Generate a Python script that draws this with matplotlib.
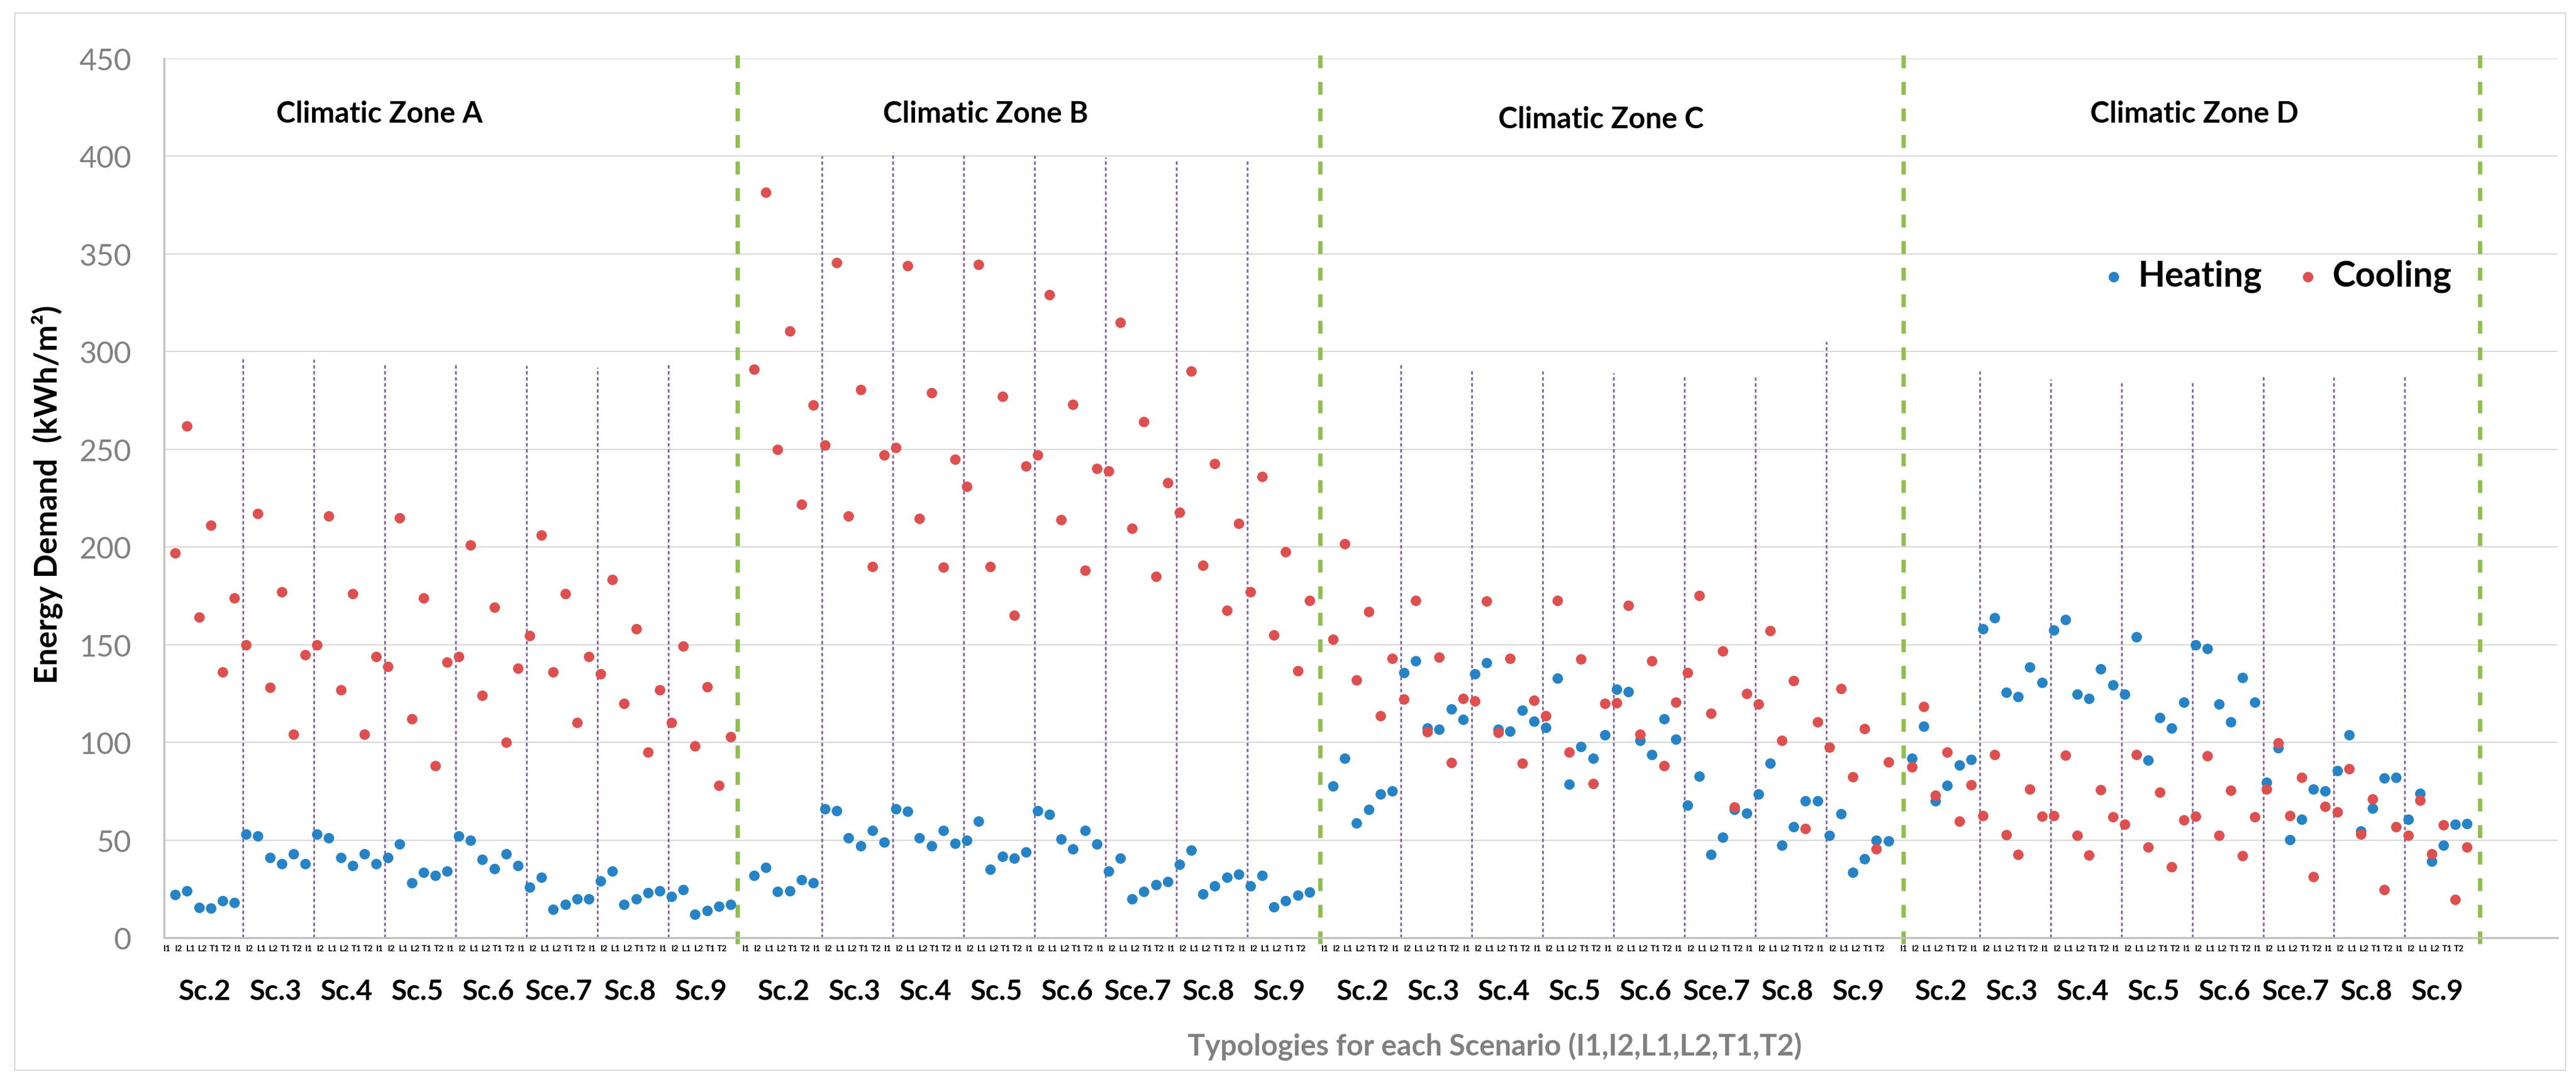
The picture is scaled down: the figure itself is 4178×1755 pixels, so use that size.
import numpy as np
import matplotlib

matplotlib.use("Agg")
import matplotlib.pyplot as plt
from matplotlib.patches import Rectangle
from matplotlib.transforms import blended_transform_factory

plt.rcParams["font.family"] = ["Lato", "DejaVu Sans"]

# ---------------------------------------------------------------------------
# Data: energy demand (kWh/m2), 8 scenarios x 6 typologies per climatic zone
# ---------------------------------------------------------------------------
TYPOLOGIES = ["I1", "I2", "L1", "L2", "T1", "T2"]
SCENARIOS = ["Sc.2", "Sc.3", "Sc.4", "Sc.5", "Sc.6", "Sce.7", "Sc.8", "Sc.9"]
ZONES = ["Climatic Zone A", "Climatic Zone B", "Climatic Zone C", "Climatic Zone D"]

HEAT_A = [22, 24, 15.5, 15, 19, 18, 53, 52, 41, 38, 43, 38,
          53, 51, 41, 37, 43, 38, 41, 48, 28, 33.5, 32, 34,
          52, 50, 40, 35.5, 43, 37, 26, 31, 14.6, 17, 20, 20,
          29, 34, 17, 20, 23, 24, 21, 24.5, 12, 14, 16, 17]
COOL_A = [197, 262, 164, 211, 136, 174, 150, 217, 128, 177, 104, 145,
          150, 216, 127, 176, 104, 144, 139, 215, 112, 174, 88, 141,
          144, 201, 124, 169, 100, 138, 154.5, 206, 136, 176, 110, 144,
          135, 183.5, 120, 158, 95, 127, 110, 149.4, 98, 128.5, 78, 103]

HEAT_B = [32, 36, 23.6, 24, 29.6, 28, 66, 65, 51, 47, 55, 49,
          66, 64.6, 51, 47, 55, 48.4, 50, 59.5, 35, 41.5, 40.6, 44,
          65, 63, 50.5, 45.4, 55, 48, 34, 40.6, 20, 23.6, 27, 28.7,
          37.7, 44.8, 22.4, 26.6, 30.8, 32.6, 26.6, 32, 15.8, 19, 21.8, 23.3]
COOL_B = [291, 381.6, 250, 310.5, 222, 272.6, 252, 345.5, 216, 280.6, 190, 247,
          251, 344, 214.6, 279, 189.5, 245, 231, 344.6, 190, 277, 165, 241.5,
          247, 329, 214, 273, 188, 240, 239, 315, 209.5, 264, 185, 233,
          217.6, 290, 190.7, 242.7, 167.7, 212, 177, 236, 155, 197.5, 136.6, 172.7]

HEAT_C = [77.7, 91.7, 58.6, 65.7, 73.5, 75, 135.7, 141.7, 107.3, 106.7, 117, 111.8,
          135, 140.8, 106.7, 105.8, 116.6, 110.9, 107.6, 133, 78.6, 97.7, 91.8, 103.7,
          127.3, 126, 101, 93.8, 112, 101.6, 68, 82.8, 42.7, 51.4, 65.5, 63.7,
          73.5, 89.4, 47.2, 56.8, 70, 70, 52.3, 63.4, 33.5, 40.3, 50, 49.6]
COOL_C = [152.7, 201.7, 132, 167, 113.6, 143, 122, 172.7, 105.5, 143.5, 89.7, 122.5,
          121.3, 172.4, 105, 142.9, 89.4, 121.6, 113.6, 172.7, 95, 142.6, 79, 120,
          120.1, 170, 104, 141.7, 88, 120.4, 135.7, 175, 114.8, 146.7, 67, 125,
          119.5, 157, 101, 131.5, 55.9, 110.6, 97.4, 127.6, 82.5, 107, 45.4, 90]

HEAT_D = [91.8, 108.2, 70.2, 78, 88.5, 91.2, 158, 163.8, 125.5, 123.4, 138.4, 130.6,
          157.5, 162.9, 124.6, 122.5, 137.5, 129.4, 124.6, 153.9, 90.9, 112.7, 107.3, 120.7,
          150, 148, 119.5, 110.3, 133.3, 120.4, 79.5, 97.1, 50.2, 60.7, 76.2, 75,
          85.5, 103.7, 54.7, 66.3, 81.6, 81.9, 60.7, 73.8, 39.2, 47.2, 58, 58.3]
COOL_D = [87.3, 118.3, 72.9, 95, 59.8, 78.3, 62.5, 93.8, 52.6, 42.7, 75.9, 62.2,
          62.5, 93.5, 52.3, 42.4, 75.6, 61.9, 58, 93.8, 46.3, 74.4, 36.2, 60.4,
          62.2, 93.2, 52.3, 75.3, 42.1, 61.9, 75.9, 99.8, 62.5, 81.9, 31.1, 67.2,
          64.3, 86.4, 52.9, 71.1, 24.5, 56.8, 52.3, 70.5, 43, 57.7, 19.7, 46.3]

HEAT = [HEAT_A, HEAT_B, HEAT_C, HEAT_D]
COOL = [COOL_A, COOL_B, COOL_C, COOL_D]

# heights of the scenario separators (drawn by hand in the original)
SEP_TOP_A = [297, 296, 294, 294, 293, 292, 294]
SEP_TOP_B = [400, 402, 400.5, 400.5, 399.6, 397.5, 399]
SEP_TOP_C = [294, 291, 290, 289, 287.5, 287, 305]
SEP_TOP_D = [290, 286, 284.5, 284.5, 288, 287, 288]
SEP_TOPS = [SEP_TOP_A, SEP_TOP_B, SEP_TOP_C, SEP_TOP_D]

C_HEAT = "#2683C6"
C_COOL = "#DE5050"
C_SEP = "#8064A2"
C_ZONE = "#8EBF50"
C_GRID = "#D9D9D9"
C_AXIS = "#BFBFBF"
C_GRAY = "#808080"

ZONE_STRIDE = 49          # 48 categories + one empty slot per zone
n_grp = len(TYPOLOGIES)

fig = plt.figure(figsize=(41.78, 17.56), dpi=100)
W, H = 4178, 1756
x0, x1, y0, y1 = 266, 4148, 96, 1522
ax = fig.add_axes([x0 / W, 1 - y1 / H, (x1 - x0) / W, (y1 - y0) / H])

tick_pos, tick_lab = [], []
tr = blended_transform_factory(ax.transData, ax.transAxes)
for z in range(4):
    off = z * ZONE_STRIDE
    idx = off + np.arange(len(HEAT[z]))
    ax.scatter(idx, HEAT[z], s=150, color=C_HEAT, linewidths=0, zorder=3,
               label="Heating" if z == 0 else None)
    ax.scatter(idx, COOL[z], s=150, color=C_COOL, linewidths=0, zorder=4,
               label="Cooling" if z == 0 else None)
    tick_pos += list(idx - 0.7)
    tick_lab += TYPOLOGIES * len(SCENARIOS)
    # scenario separators
    for s in range(1, len(SCENARIOS)):
        xs = off + s * n_grp - 0.27
        ax.plot([xs, xs], [0, SEP_TOPS[z][s - 1]], color=C_SEP, lw=2.0,
                ls=(0, (2.0, 1.5)), zorder=2)
    # scenario labels
    for s, name in enumerate(SCENARIOS):
        ax.text(off + s * n_grp + 2.5, -0.061, name, transform=tr,
                ha="center", va="center", fontsize=33, fontweight="bold")

# zone separators (green) and titles
for xg in [47.6, 96.9, 146.3, 195.1]:
    ax.plot([xg, xg], [-3, 455], color=C_ZONE, lw=5, ls=(0, (3.0, 3.2)),
            zorder=2, clip_on=False)
for name, (xt, yt) in zip(ZONES, [(17.3, 422), (68.6, 422), (120.7, 419), (170.9, 422)]):
    ax.text(xt, yt, name, ha="center", va="center", fontsize=34, fontweight="bold")

ax.set_xlim(-0.955, 201.65)
ax.set_ylim(0, 450)
ax.set_yticks(np.arange(0, 451, 50))
ax.tick_params(axis="y", labelsize=35, labelcolor=C_GRAY, length=0, pad=38)
ax.set_xticks(tick_pos)
ax.set_xticklabels(tick_lab, fontsize=10, fontweight="bold")
ax.tick_params(axis="x", length=0, pad=8)
ax.grid(axis="y", color=C_GRID, lw=1.5, zorder=0)
ax.set_axisbelow(True)
for sp in ("top", "right"):
    ax.spines[sp].set_visible(False)
ax.spines["left"].set_color(C_AXIS)
ax.spines["left"].set_linewidth(2.2)
ax.spines["bottom"].set_color(C_AXIS)
ax.spines["bottom"].set_linewidth(2.2)

ax.legend(loc="center left", bbox_to_anchor=(0.8027, 0.753), ncol=2,
          frameon=False, borderpad=0, handlelength=0.6, handletextpad=0.4,
          columnspacing=1.0, scatterpoints=1,
          prop={"size": 41, "weight": "bold"})

fig.text(76 / W, 1 - 802 / H, "Energy Demand  (kWh/m²)", rotation=90,
         ha="center", va="center", fontsize=37, fontweight="bold")
fig.text(2424 / W, 1 - 1698 / H, "Typologies for each Scenario (I1,I2,L1,L2,T1,T2)",
         ha="center", va="center", fontsize=34, fontweight="bold", color=C_GRAY)

fig.patches.append(Rectangle((24 / W, 1 - 1737 / H), (4161 - 24) / W, (1737 - 22) / H,
                             transform=fig.transFigure, fill=False,
                             edgecolor=C_GRID, lw=1.5))

fig.savefig("out.png", dpi=100, facecolor="white")
